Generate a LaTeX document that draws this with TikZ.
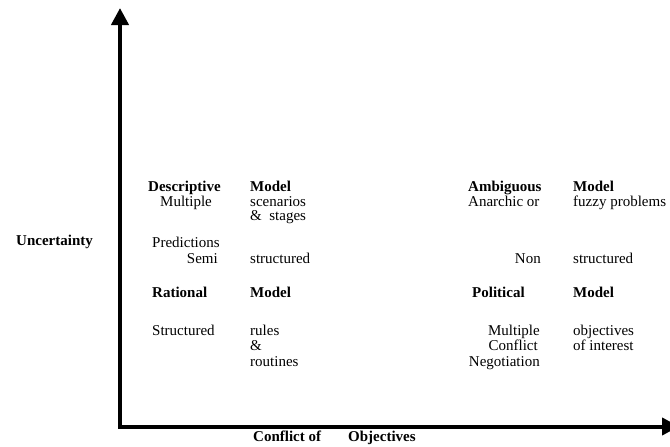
\documentclass[tikz,border=0pt]{standalone}
\usepackage{fontspec}
\setmainfont{Liberation Serif}
\usetikzlibrary{arrows.meta}
\begin{document}
\begin{tikzpicture}[x=1pt,y=-1pt,
  axis/.style={line width=4pt, line join=miter,
    arrows={Triangle[width=17pt,length=17pt]-Triangle[width=17pt,length=17pt]}},
  txt/.style={inner sep=0pt, font=\fontsize{15}{15}\selectfont},
  hd/.style={txt, font=\fontsize{15}{15}\selectfont\bfseries},
  lw/.style={anchor=base west},
  le/.style={anchor=base east}]
\useasboundingbox (0,0) rectangle (670,447);

% axes
\coordinate (ytop) at (120,8);
\coordinate (origin) at (120,426.5);
\coordinate (xend) at (679,426.5);
\draw[axis] (ytop) -- (origin) -- (xend);

% axis titles
\node[hd,lw] (unc) at (16,245) {Uncertainty};
\node[hd,lw] (conf) at (253,441) {Conflict of};
\node[hd,lw] (obj) at (348,441) {Objectives};

% descriptive model
\node[hd,lw] (desc) at (148,191) {Descriptive};
\node[hd,lw] (descm) at (250,191) {Model};
\node[txt,lw] (mult) at (160,206) {Multiple};
\node[txt,lw] (scen) at (250,206) {scenarios};
\node[txt,lw] (stag) at (250,220) {\&~~stages};
\node[txt,lw] (pred) at (152,247) {Predictions};
\node[txt,le] (semi) at (218,263) {Semi};
\node[txt,lw] (sstr) at (250,263) {structured};

% rational model
\node[hd,lw] (rat) at (152,297) {Rational};
\node[hd,lw] (ratm) at (250,297) {Model};
\node[txt,lw] (struc) at (152,335) {Structured};
\node[txt,lw] (rules) at (250,335) {rules};
\node[txt,lw] (amp) at (250,350) {\&};
\node[txt,lw] (rout) at (250,366) {routines};

% ambiguous model
\node[hd,lw] (amb) at (468,191) {Ambiguous};
\node[hd,lw] (ambm) at (573,191) {Model};
\node[txt,lw] (anar) at (468,206) {Anarchic or};
\node[txt,lw] (fuzz) at (573,206) {fuzzy problems};
\node[txt,le] (non) at (541,263) {Non};
\node[txt,lw] (nstr) at (573,263) {structured};

% political model
\node[hd,lw] (pol) at (472,297) {Political};
\node[hd,lw] (polm) at (573,297) {Model};
\node[txt,le] (pmult) at (540,335) {Multiple};
\node[txt,lw] (objs) at (573,335) {objectives};
\node[txt,le] (pconf) at (538,350) {Conflict};
\node[txt,lw] (inter) at (573,350) {of interest};
\node[txt,le] (nego) at (540,366) {Negotiation};
\end{tikzpicture}
\end{document}
